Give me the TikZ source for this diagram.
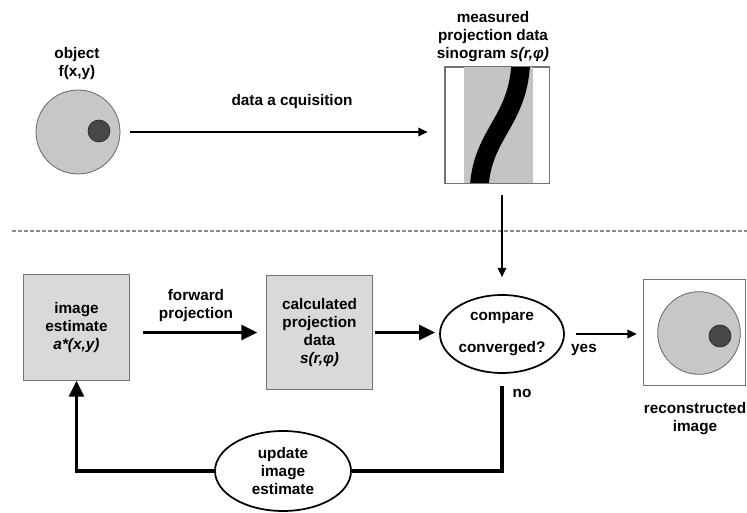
\documentclass[tikz,border=0pt]{standalone}
\usepackage{fontspec}
\setmainfont{Liberation Sans}
\usetikzlibrary{shapes.geometric,arrows.meta,positioning}

\begin{document}
\begin{tikzpicture}[
  x=0.75pt,y=-0.75pt,
  font=\fontsize{11.5}{13.5}\selectfont\bfseries,
  lbl/.style={align=center,inner sep=0pt},
  box/.style={draw=black!55,fill=black!15,line width=0.6pt,align=center,inner sep=0pt},
  frame/.style={draw=black!55,fill=white,line width=0.6pt,inner sep=0pt},
  disc/.style={circle,draw=black!60,fill=black!22,line width=0.6pt,inner sep=0pt},
  dot/.style={circle,draw=black!85,fill=black!72,line width=0.5pt,minimum size=16.5pt,inner sep=0pt},
  oval/.style={ellipse,draw,line width=1.3pt,align=center,inner sep=0pt},
  slim/.style={-{Triangle[length=7pt,width=6.5pt]},line width=1.1pt},
  heavy/.style={-{Triangle[length=12pt,width=11pt]},line width=2.4pt},
  feedback/.style={line width=2.4pt}
]
\useasboundingbox (0,0) rectangle (747,513);

\node[lbl] (objlbl) at (77,64) {object\\f(x,y)};
\node[disc,minimum size=63pt] (obj) at (78,132) {};
\node[dot] (objdot) at (99,131) {};

\node[lbl] (sinolbl) at (493,37) {measured\\projection data\\sinogram \textit{s(r,φ)}};
\node[frame,minimum width=78pt,minimum height=87pt] (sino) at (497,125) {};
\begin{scope}
  \clip (sino.south west) rectangle (sino.north east);
  \fill[black!23] (464,60) rectangle (533,190);
  \draw[line width=14pt] (479,195) .. controls (479,132) and (521,124) .. (521,55);
\end{scope}
\draw[black!55,line width=0.6pt] (sino.south west) rectangle (sino.north east);

\node[lbl] (acqlbl) at (292,102) {data a cquisition};
\draw[slim,shorten <=7.5pt,shorten >=12.75pt] (obj.east) -- (obj.east -| sino.west);

\draw[black!45,line width=1pt,dash pattern=on 3pt off 1.5pt] (12,231) -- (747,231);

\node[box,minimum width=80pt,minimum height=79pt] (est) at (76.5,327.5) {image\\estimate\\\textit{a*(x,y)}};
\node[box,minimum width=79pt,minimum height=86pt] (calc) at (319.5,332.5) {calculated\\projection\\data\\\textit{s(r,φ)}};
\node[oval,minimum width=93pt,minimum height=58.5pt] (cmp) at (502,334) {compare\\[10pt]converged?};
\node[frame,minimum width=77pt,minimum height=79pt] (rec) at (694.5,332.5) {};
\node[disc,minimum size=62pt] (recdisc) at (699,333) {};
\node[dot] (recdot) at (720,336) {};
\node[lbl] (reclbl) at (695,419) {reconstructed\\image};
\node[oval,minimum width=102pt,minimum height=60pt] (upd) at (283,471) {update\\image\\estimate};

\node[lbl] (fwdlbl) at (196,306) {forward\\projection};
\draw[heavy,shorten <=9.75pt,shorten >=6.75pt] (est.east |- calc.west) -- (calc.west);
\draw[heavy,shorten <=2pt,shorten >=3pt] (calc.east) -- (calc.east -| cmp.west);
\draw[slim,shorten <=9pt,shorten >=12.75pt] (cmp.north |- sino.south) -- (cmp.north);
\draw[slim,shorten <=8pt,shorten >=4.5pt] (cmp.east) -- (cmp.east -| rec.west);
\node[lbl] (yeslbl) at (584,350) {yes};

\draw[feedback] ([yshift=-9pt]cmp.south) |- (upd.east);
\node[lbl] (nolbl) at (522,393) {no};
\draw[heavy] (upd.west) -| (est.south);
\end{tikzpicture}
\end{document}
